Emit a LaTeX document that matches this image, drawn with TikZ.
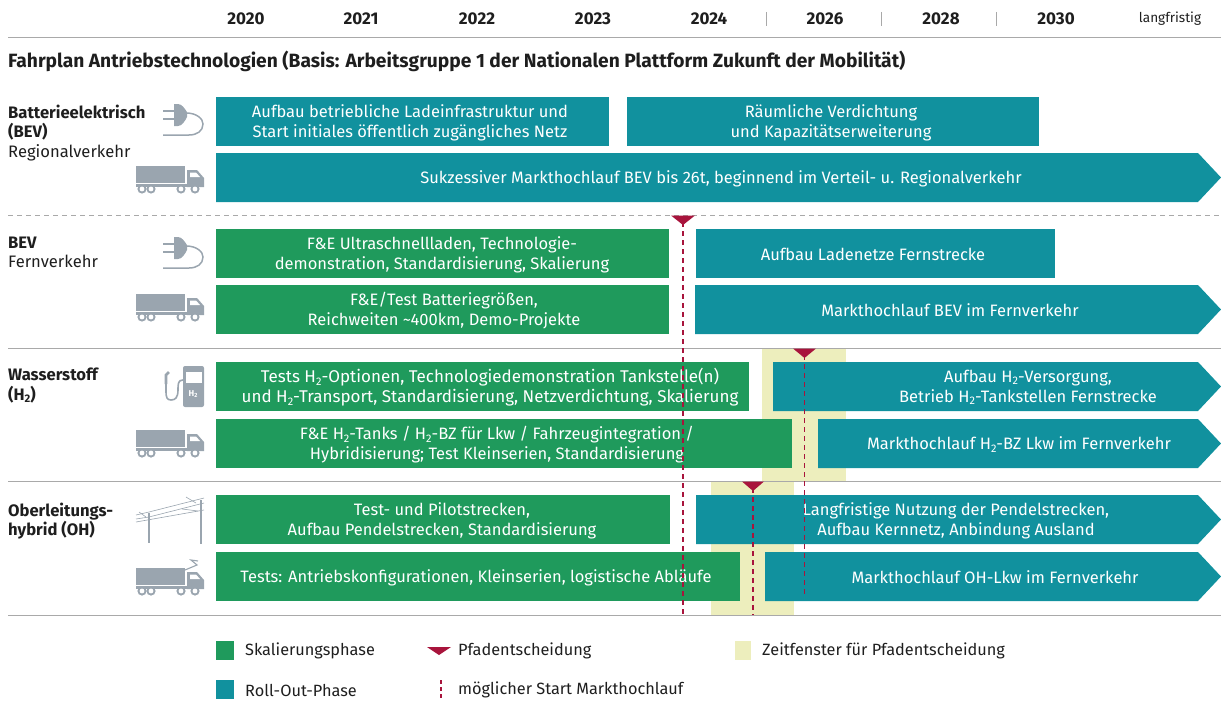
\documentclass[tikz,border=0pt]{standalone}
\usepackage{fontspec}
\setmainfont{Fira Sans}
\definecolor{gruen}{HTML}{1F9A5C}
\definecolor{teal1}{HTML}{11919E}
\definecolor{fenster}{HTML}{EDEEBD}
\definecolor{rotton}{HTML}{A8143C}
\definecolor{grau}{HTML}{9AA5AF}
\definecolor{linie}{HTML}{A9A9A9}
\definecolor{tinte}{HTML}{1E1E1E}
\newcommand{\Hz}{H\raisebox{-0.3ex}{\fontsize{11}{11}\selectfont 2}}
\newcommand{\phbox}[7]{% name x1 x2 ytop colour textx text
  \fill[#5] (#2,#3) rectangle (#4,#3+49);
  \node[phasetext] (#1) at (#6,#3+25.5) {#7};}
\newcommand{\pharrow}[6]{% name x1 ytop colour textx text
  \fill[#4] (#2,#3) -- (1198,#3) -- (1221,#3+24.5) -- (1198,#3+49) -- (#2,#3+49) -- cycle;
  \node[phasetext] (#1) at (#5,#3+25.5) {#6};}
\newcommand{\truckicon}[2]{% x y: top-left of cargo
  \begin{scope}[shift={(#1,#2)}]
    \fill[grau] (0,0) rectangle (49,17);
    \fill[grau] (0,18) rectangle (68,21);
    \fill[grau] (51,4) -- (61,4) -- (68,12) -- (68,21) -- (51,21) -- cycle;
    \fill[white] (54,6.5) -- (60,6.5) -- (64,11) -- (54,11) -- cycle;
    \foreach \wx in {6,15,45,59}{
      \fill[grau] (\wx,23) circle (4.6);
      \fill[white] (\wx,23) circle (2.4);}
  \end{scope}}
\newcommand{\plugicon}[2]{% x y: left end of upper prong
  \begin{scope}[shift={(#1,#2)}]
    \draw[grau,line width=1.8pt] (0,0) -- (12,0) (0,8) -- (12,8);
    \fill[grau] (11,-7) -- (15,-7) .. controls (19,-7) and (22,-2) .. (24,1) -- (24,6) .. controls (22,10) and (19,15) .. (15,15) -- (11,15) -- cycle;
    \draw[grau,line width=1.5pt] (23,2) .. controls (34,2) and (40,8) .. (40,13) .. controls (40,20) and (34,24) .. (26,24) -- (0,24);
  \end{scope}}
\tikzset{
  x=1pt,y=-1pt,
  phasetext/.style={text=white,font=\fontsize{16.5}{20}\selectfont,align=center,inner sep=0pt},
  year/.style={text=tinte,font=\fontsize{17}{20}\selectfont\bfseries,inner sep=0pt},
  rowhead/.style={text=tinte,font=\fontsize{16.6}{19.5}\selectfont,align=left,anchor=north west,inner sep=0pt},
  legend/.style={text=tinte,font=\fontsize{16.3}{18}\selectfont,anchor=west,inner sep=0pt},
  sep/.style={linie,line width=1pt},
  start/.style={draw=rotton,line width=1.2pt,dash pattern=on 5pt off 4pt},
  marker/.style={fill=rotton}
}
\begin{document}
\begin{tikzpicture}
\useasboundingbox (0,0) rectangle (1221,701);
% time windows
\fill[fenster] (762,348) rectangle (846,481);
\fill[fenster] (711,481) rectangle (794,615);
% header
\node[year] (y20) at (246,19) {2020};
\node[year] (y21) at (361,19) {2021};
\node[year] (y22) at (477,19) {2022};
\node[year] (y23) at (593,19) {2023};
\node[year] (y24) at (709,19) {2024};
\node[year] (y26) at (825,19) {2026};
\node[year] (y28) at (941,19) {2028};
\node[year] (y30) at (1056,19) {2030};
\node[year,font=\fontsize{13.6}{17}\selectfont] (ylf) at (1170,19) {langfristig};
\foreach \tx in {766,881,996}{\draw[linie,line width=.8pt] (\tx,12) -- (\tx,26);}
\draw[sep] (8,38) -- (1221,38);
\node[text=tinte,anchor=west,inner sep=0pt,font=\fontsize{19.2}{22}\selectfont\bfseries] (title) at (8,61)
 {Fahrplan Antriebstechnologien (Basis: Arbeitsgruppe 1 der Nationalen Plattform Zukunft der Mobilität)};
% separators
\draw[linie,line width=.9pt,dash pattern=on 5pt off 4pt] (8,215) -- (1221,215);
\draw[sep] (8,348) -- (1221,348);
\draw[sep] (8,481) -- (1221,481);
\draw[sep] (8,615) -- (1221,615);
% row heads
\node[rowhead] (h1) at (8,104.5) {\textbf{Batterieelektrisch}\\\textbf{(BEV)}\\Regionalverkehr};
\node[rowhead] (h2) at (8,236.5) {\textbf{BEV}\\Fernverkehr};
\node[rowhead] (h3) at (8,368) {\textbf{Wasserstoff}\\\textbf{(\Hz)}};
\node[rowhead] (h4) at (8,502.5) {\textbf{Oberleitungs-}\\\textbf{hybrid (OH)}};
% icons
\plugicon{163}{111}
\truckicon{136}{166}
\plugicon{163}{244}
\truckicon{136}{294}
\truckicon{136}{430}
\truckicon{136}{568}
% pump
\fill[grau,rounded corners=2pt] (183,366) rectangle (204,407);
\fill[white] (185.5,372) rectangle (201.5,383);
\node[text=white,inner sep=0pt,font=\fontsize{8.5}{9}\selectfont\bfseries] (pumpH) at (193,394) {H\raisebox{-.3ex}{\fontsize{6}{6}\selectfont 2}};
\draw[grau,line width=1.6pt] (183,380) .. controls (178,380) and (178,384) .. (178,390) .. controls (178,398) and (175,400) .. (171,400) .. controls (167,400) and (166,397) .. (166,392) -- (166,380);
\draw[grau,line width=2.6pt] (166,384) -- (166,375) -- (169,372);
% pylon
\draw[grau,line width=1.2pt] (149,513) -- (149,543);
\draw[grau,line width=2pt] (200.5,500) -- (200.5,544);
\draw[grau,line width=.6pt] (136,515) -- (149,512) -- (204,498);
\draw[grau,line width=.6pt] (136,519) -- (149,517) -- (204,503);
\draw[grau,line width=.6pt] (136,522) -- (204,510);
\draw[grau,line width=.6pt] (139,512) -- (146,517) (186,497) -- (196,503) (182,509) -- (198,511);
% pantograph on last truck
\draw[grau,line width=1.1pt] (185,570) -- (197,565) -- (191,560) -- (198,561);
% row 1
\phbox{a1}{216}{97}{609}{teal1}{410}{Aufbau betriebliche Ladeinfrastruktur und\\Start initiales öffentlich zugängliches Netz}
\phbox{a2}{627}{97}{1039}{teal1}{831}{Räumliche Verdichtung\\und Kapazitätserweiterung}
\pharrow{a3}{216}{153}{teal1}{721}{Sukzessiver Markthochlauf BEV bis 26t, beginnend im Verteil- u. Regionalverkehr}
% row 2
\phbox{b1}{216}{229}{669}{gruen}{442}{F\&E Ultraschnellladen, Technologie-\\demonstration, Standardisierung, Skalierung}
\phbox{b2}{696}{229}{1055}{teal1}{873}{Aufbau Ladenetze Fernstrecke}
\phbox{b3}{216}{285}{669}{gruen}{444}{F\&E/Test Batteriegrößen,\\Reichweiten \textasciitilde 400km, Demo-Projekte}
\pharrow{b4}{695}{285}{teal1}{950}{Markthochlauf BEV im Fernverkehr}
% row 3
\phbox{c1}{216}{362}{749}{gruen}{490}{\fontsize{17}{20}\selectfont Tests \Hz-Optionen, Technologiedemonstration Tankstelle(n)\\\fontsize{17}{20}\selectfont und \Hz-Transport, Standardisierung, Netzverdichtung, Skalierung}
\pharrow{c2}{773}{362}{teal1}{1028}{Aufbau \Hz-Versorgung,\\Betrieb \Hz-Tankstellen Fernstrecke}
\phbox{c3}{216}{419}{792}{gruen}{497}{F\&E \Hz-Tanks / \Hz-BZ für Lkw / Fahrzeugintegration /\\Hybridisierung; Test Kleinserien, Standardisierung}
\pharrow{c4}{818}{419}{teal1}{1019}{Markthochlauf \Hz-BZ Lkw im Fernverkehr}
% row 4
\phbox{d1}{216}{495}{670}{gruen}{442}{Test- und Pilotstrecken,\\Aufbau Pendelstrecken, Standardisierung}
\pharrow{d2}{696}{495}{teal1}{956}{Langfristige Nutzung der Pendelstrecken,\\Aufbau Kernnetz, Anbindung Ausland}
\phbox{d3}{216}{552}{740}{gruen}{476}{Tests: Antriebskonfigurationen, Kleinserien, logistische Abläufe}
\pharrow{d4}{765}{552}{teal1}{995}{Markthochlauf OH-Lkw im Fernverkehr}
% decision lines and markers
\draw[start] (683,222) -- (683,615);
\draw[start] (804.5,355) -- (804.5,596);
\draw[start] (753,488) -- (753,615);
\fill[marker] (671,215.5) -- (695,215.5) -- (683,225) -- cycle;
\fill[marker] (793,348.5) -- (816,348.5) -- (804.5,358) -- cycle;
\fill[marker] (742,481.5) -- (764,481.5) -- (753,491) -- cycle;
% legend
\fill[gruen] (216,641) rectangle (234,660);
\node[legend] (l1) at (245,651) {Skalierungsphase};
\fill[teal1] (216,680) rectangle (234,699);
\node[legend] (l2) at (245,690) {Roll-Out-Phase};
\fill[marker] (427,647) -- (451,647) -- (439,655) -- cycle;
\node[legend] (l3) at (458,651) {Pfadentscheidung};
\draw[start,dash pattern=on 4pt off 3pt] (441,680) -- (441,699);
\node[legend] (l4) at (458,690) {möglicher Start Markthochlauf};
\fill[fenster] (735,641) rectangle (751,660);
\node[legend] (l5) at (762,651) {Zeitfenster für Pfadentscheidung};
\end{tikzpicture}
\end{document}
